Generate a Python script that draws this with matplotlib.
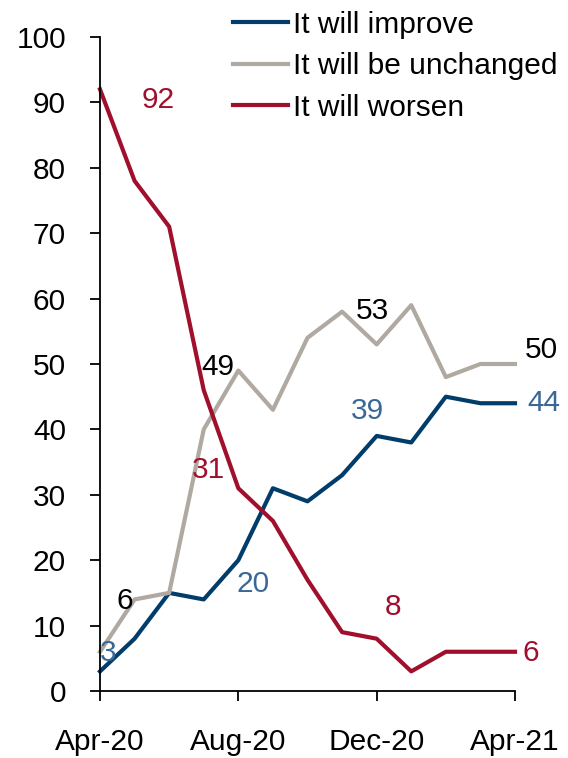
import matplotlib.pyplot as plt

plt.rcParams['font.family'] = ['Liberation Sans', 'DejaVu Sans']

months = list(range(13))
tick_pos = [0, 4, 8, 12]
tick_labels = ["Apr-20", "Aug-20", "Dec-20", "Apr-21"]

improve = [3, 8, 15, 14, 20, 31, 29, 33, 39, 38, 45, 44, 44]
unchanged = [6, 14, 15, 40, 49, 43, 54, 58, 53, 59, 48, 50, 50]
worsen = [92, 78, 71, 46, 31, 26, 17, 9, 8, 3, 6, 6, 6]

c_imp = "#003d6b"
c_unc = "#b0a9a2"
c_wor = "#a0102d"
c_imp_lbl = "#3a6896"

fs = 21.5

fig = plt.figure(figsize=(5.68, 7.58), dpi=100)
ax = fig.add_axes([100/568, 67/758, 415/568, 654/758])

ax.plot(months, improve, color=c_imp, lw=3.0, label="It will improve")
ax.plot(months, unchanged, color=c_unc, lw=3.0, label="It will be unchanged")
ax.plot(months, worsen, color=c_wor, lw=3.0, label="It will worsen")

# value labels: (series, index, text colour, offset in pixels)
labels = [
    (improve, 0, c_imp_lbl, 8, 18),
    (unchanged, 0, "black", 25, 51),
    (worsen, 0, c_wor, 58, -11),
    (unchanged, 4, "black", -20, 4),
    (worsen, 4, c_wor, -30, 18),
    (improve, 4, c_imp_lbl, 15, -24),
    (unchanged, 8, "black", -4, 33),
    (improve, 8, c_imp_lbl, -9, 25),
    (worsen, 8, c_wor, 16, 32),
    (unchanged, 12, "black", 26, 14),
    (improve, 12, c_imp_lbl, 29, 0),
    (worsen, 12, c_wor, 16, -1),
]
for s, i, col, dx, dy in labels:
    ax.annotate(str(s[i]), (months[i], s[i]), xytext=(dx, dy), textcoords='offset pixels',
                ha='center', va='center', color=col, fontsize=fs)

ax.set_xlim(0, 12)
ax.set_ylim(0, 100)
ax.set_yticks(range(0, 101, 10))
ax.set_xticks(tick_pos)
ax.set_xticklabels(tick_labels)
ax.tick_params(axis='both', labelsize=fs, length=7.5, width=1.3, direction='out')
ax.tick_params(axis='x', pad=19)
ax.tick_params(axis='y', pad=17)
for sp in ['top', 'right']:
    ax.spines[sp].set_visible(False)
for sp in ['left', 'bottom']:
    ax.spines[sp].set_linewidth(1.3)
for ln in ax.lines:
    ln.set_clip_on(False)

fig.legend(loc='upper left', bbox_to_anchor=(221/568, 1 + 1/758), frameon=False,
           fontsize=fs, handlelength=1.85, handletextpad=0.15, labelspacing=0.45,
           borderaxespad=0)

fig.savefig("out.png", dpi=100)
